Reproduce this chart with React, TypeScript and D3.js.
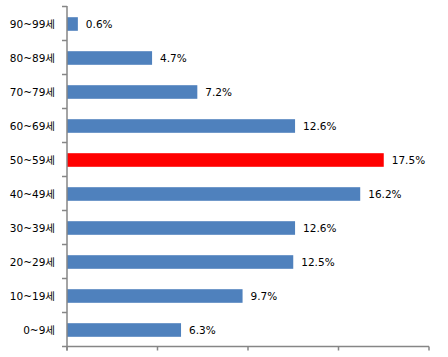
import React from "react";
import * as d3 from "d3";

const categories = ["0~9세", "10~19세", "20~29세", "30~39세", "40~49세", "50~59세", "60~69세", "70~79세", "80~89세", "90~99세"];
const values = [6.3, 9.7, 12.5, 12.6, 16.2, 17.5, 12.6, 7.2, 4.7, 0.6];
const highlight = ["50~59세"];
const xTicks = [0, 5, 10, 15, 20];

const W = 448;
const H = 357;
const margin = { left: 67, top: 7, right: 19, bottom: 10 };
const axisColor = "#868686";
const font = "'DejaVu Sans', 'Noto Sans CJK KR', sans-serif";

export default function App() {
  const x = d3.scaleLinear().domain([0, 20]).range([margin.left, W - margin.right]);
  const y = d3
    .scaleBand<string>()
    .domain([...categories].reverse())
    .range([margin.top, H - margin.bottom])
    .paddingInner(0.6)
    .paddingOuter(0.3);
  const boundaries = d3.range(categories.length + 1).map((i) => margin.top + (i * (H - margin.bottom - margin.top)) / categories.length);
  const bottom = H - margin.bottom - 0.5;

  return (
    <svg width={W} height={H} style={{ position: "absolute", left: 0, top: 0, background: "#fff" }}>
      {categories.map((c, i) => {
        const cy = (y(c) as number) + y.bandwidth() / 2;
        return (
          <g key={c}>
            <rect
              x={x(0)}
              y={y(c)}
              width={x(values[i]) - x(0)}
              height={y.bandwidth()}
              fill={highlight.includes(c) ? "#FF0000" : "#4F81BD"}
            />
            <text x={x(values[i]) + 8} y={cy} dy="0.36em" fontSize={10.5} fontFamily={font} fill="#000">
              {values[i].toFixed(1)}%
            </text>
            <text x={55} y={cy} dy="0.36em" textAnchor="end" fontSize={10.5} fontFamily={font} fill="#000">
              {c}
            </text>
          </g>
        );
      })}
      <line x1={x(0)} x2={x(0)} y1={margin.top - 1} y2={bottom + 4} stroke={axisColor} strokeWidth={1.5} />
      <line x1={x(0) - 5} x2={x(20)} y1={bottom} y2={bottom} stroke={axisColor} strokeWidth={1.5} />
      {boundaries.slice(0, -1).map((b, i) => (
        <line key={"yt" + i} x1={x(0) - 5} x2={x(0)} y1={b - 0.5} y2={b - 0.5} stroke={axisColor} strokeWidth={1.5} />
      ))}
      {xTicks.map((t) => (
        <line key={"xt" + t} x1={x(t)} x2={x(t)} y1={bottom} y2={bottom + 4} stroke={axisColor} strokeWidth={1.5} />
      ))}
    </svg>
  );
}
